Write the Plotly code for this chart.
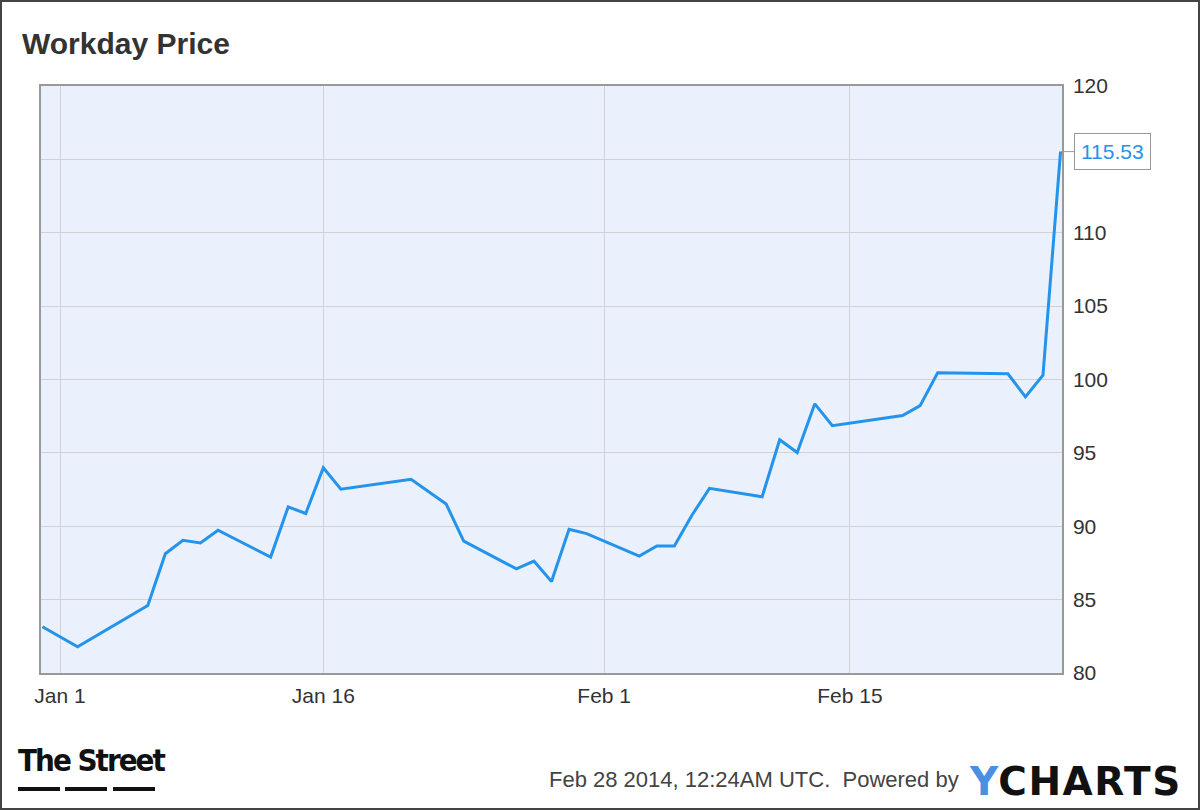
import plotly.graph_objects as go

# ---- data ----
dates = ["2013-12-31", "2014-01-02", "2014-01-06", "2014-01-07", "2014-01-08",
         "2014-01-09", "2014-01-10", "2014-01-13", "2014-01-14", "2014-01-15",
         "2014-01-16", "2014-01-17", "2014-01-21", "2014-01-23", "2014-01-24",
         "2014-01-27", "2014-01-28", "2014-01-29", "2014-01-30", "2014-01-31",
         "2014-02-03", "2014-02-04", "2014-02-05", "2014-02-06", "2014-02-07",
         "2014-02-10", "2014-02-11", "2014-02-12", "2014-02-13", "2014-02-14",
         "2014-02-18", "2014-02-19", "2014-02-20", "2014-02-24", "2014-02-25",
         "2014-02-26", "2014-02-27"]
prices = [83.15, 81.78, 84.60, 88.13, 89.04,
          88.86, 89.73, 87.90, 91.32, 90.87,
          93.99, 92.53, 93.20, 91.51, 88.99,
          87.10, 87.63, 86.23, 89.79, 89.50,
          87.97, 88.65, 88.65, 90.75, 92.58,
          92.01, 95.89, 95.02, 98.34, 96.85,
          97.55, 98.22, 100.46, 100.39, 98.82,
          100.30, 115.53]

x_tick_vals = ["2014-01-01", "2014-01-16", "2014-02-01", "2014-02-15"]
x_tick_text = ["Jan 1", "Jan 16", "Feb 1", "Feb 15"]
y_tick_vals = [80, 85, 90, 95, 100, 105, 110, 115, 120]
y_tick_text = ["80", "85", "90", "95", "100", "105", "110", "", "120"]

title_text = "Workday Price"
footer_text = "Feb 28 2014, 12:24AM UTC.  Powered by"
last_label = f"{prices[-1]:.2f}"

LINE = "#2393ec"
FONT = "Liberation Sans, Arial, Helvetica, sans-serif"

W, H = 1200, 810
ML, MR, MT, MB = 41, 138, 86, 137
PW, PH = W - ML - MR, H - MT - MB


def px(x):
    return (x - ML) / PW


def py(y):
    return (H - MB - y) / PH


fig = go.Figure()
fig.add_trace(go.Scatter(x=dates, y=prices, mode="lines",
                         line=dict(color=LINE, width=3),
                         hoverinfo="x+y", showlegend=False))

fig.add_annotation(x=dates[-1], y=prices[-1], xref="x", yref="y",
                   text=last_label, showarrow=True, ax=52, ay=0,
                   arrowhead=0, arrowwidth=1, arrowcolor="#999999",
                   bordercolor="#999999", borderwidth=1, borderpad=6,
                   bgcolor="white", font=dict(family=FONT, size=21, color=LINE))

# title
fig.add_annotation(x=px(20), y=py(44), xref="paper", yref="paper",
                   xanchor="left", yanchor="middle", showarrow=False,
                   text="<b>" + title_text + "</b>",
                   font=dict(family=FONT, size=30, color="#333333"))

# logo
fig.add_annotation(x=px(16), y=py(760), xref="paper", yref="paper",
                   xanchor="left", yanchor="middle", showarrow=False,
                   text="<span style='font-stretch:condensed;letter-spacing:-2px'><b>The Street</b></span>",
                   font=dict(family="DejaVu Sans, sans-serif", size=31, color="#111111"))

# footer
fig.add_annotation(x=px(961), y=py(779), xref="paper", yref="paper",
                   xanchor="right", yanchor="middle", showarrow=False,
                   text=footer_text,
                   font=dict(family=FONT, size=22, color="#444444"))
fig.add_annotation(x=px(967), y=py(781), xref="paper", yref="paper",
                   xanchor="left", yanchor="middle", showarrow=False,
                   text="<span style='letter-spacing:1.5px'><b><span style='color:#4a90e2'>Y</span>CHARTS</b></span>",
                   font=dict(family="DejaVu Sans, sans-serif", size=39, color="#111111"))

shapes = []
# logo dashes
for a, b in [(18, 60), (65, 107), (113, 155)]:
    shapes.append(dict(type="rect", xref="paper", yref="paper",
                       x0=px(a), x1=px(b), y0=py(791), y1=py(787),
                       fillcolor="#111111", line=dict(width=0)))
# outer frame
shapes.append(dict(type="rect", xref="paper", yref="paper",
                   x0=px(1), x1=px(1199), y0=py(809), y1=py(1),
                   line=dict(color="#444444", width=2), fillcolor="rgba(0,0,0,0)"))

fig.update_layout(
    width=W, height=H,
    margin=dict(l=ML, r=MR, t=MT, b=MB),
    paper_bgcolor="white", plot_bgcolor="#ebf1fc",
    shapes=shapes,
    font=dict(family=FONT, color="#333333"),
    xaxis=dict(range=["2013-12-30 22:00", "2014-02-27 02:00"],
               tickvals=x_tick_vals, ticktext=x_tick_text,
               tickfont=dict(size=21, color="#333333"),
               showgrid=True, gridcolor="#d2d2d2", gridwidth=1.4,
               showline=True, linecolor="#999999", linewidth=1.5, mirror=True,
               ticks="outside", ticklen=3, tickcolor="rgba(0,0,0,0)",
               zeroline=False),
    yaxis=dict(range=[80, 120], side="right", tickvals=y_tick_vals,
               ticktext=y_tick_text,
               tickfont=dict(size=21, color="#333333"),
               showgrid=True, gridcolor="#d2d2d2", gridwidth=1.4,
               showline=True, linecolor="#999999", linewidth=1.5, mirror=True,
               ticks="outside", ticklen=5, tickcolor="rgba(0,0,0,0)",
               zeroline=False),
)

fig.write_html("out.html", config={"displayModeBar": False},
               post_script="document.body.style.margin='0';document.body.style.overflow='hidden';")
